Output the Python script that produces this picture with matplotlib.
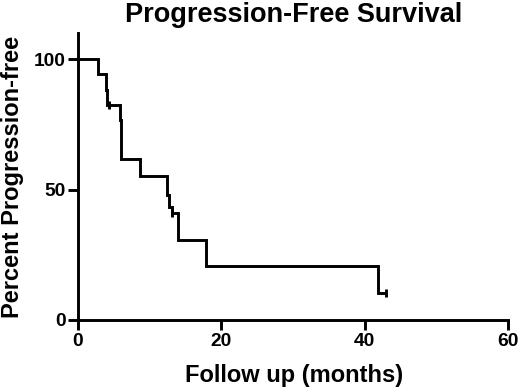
import matplotlib
matplotlib.use("Agg")
import matplotlib.pyplot as plt

plt.rcParams['font.family'] = ['Liberation Sans', 'DejaVu Sans']

# Kaplan-Meier step data
event_times = [0, 2.8, 3.9, 4.05, 5.85, 6.05, 8.6, 12.45, 12.75, 13.05, 13.9, 17.8, 41.85]
survival = [100, 94.1, 88.2, 82.4, 76.5, 61.8, 55.1, 48.1, 43.5, 41.2, 30.8, 20.6, 10.3]
last_followup = 43.0
censor_times = [4.3, 13.1, 43.0]
censor_values = [82.4, 41.2, 10.3]

x_ticks = [0, 20, 40, 60]
y_ticks = [0, 50, 100]

W, H = 520, 388
fig = plt.figure(figsize=(W / 100, H / 100), dpi=100)
ax = fig.add_axes([78 / W, 1 - 320 / H, (508 - 78) / W, (320 - 33) / H])

xs = event_times + [last_followup]
ys = survival + [survival[-1]]
ax.step(xs, ys, where='post', color='black', lw=2.1, solid_joinstyle='miter')
ax.plot(censor_times, censor_values, linestyle='none', marker='|', markersize=6,
        markeredgewidth=2.1, color='black')

ax.set_xlim(0, 60)
ax.set_ylim(0, 110)
ax.set_xticks(x_ticks)
ax.set_yticks(y_ticks)
for s in ['top', 'right']:
    ax.spines[s].set_visible(False)
for s in ['left', 'bottom']:
    ax.spines[s].set_linewidth(2.1)
ax.tick_params(direction='out', length=7, width=2.1, labelsize=13.8, pad=2)
for lab in ax.get_xticklabels() + ax.get_yticklabels():
    lab.set_fontweight('bold')

fig.text(294.5 / W, 1 - 382 / H, 'Follow up (months)', fontsize=17, fontweight='bold',
         ha='center', va='baseline')
fig.text(13 / W, 1 - 176.5 / H, 'Percent Progression-free', fontsize=17, fontweight='bold',
         ha='center', va='center', rotation=90)
fig.text(293.5 / W, 1 - 22 / H, 'Progression-Free Survival', fontsize=19.5, fontweight='bold',
         ha='center', va='baseline')

fig.savefig('out.png', dpi=100)
